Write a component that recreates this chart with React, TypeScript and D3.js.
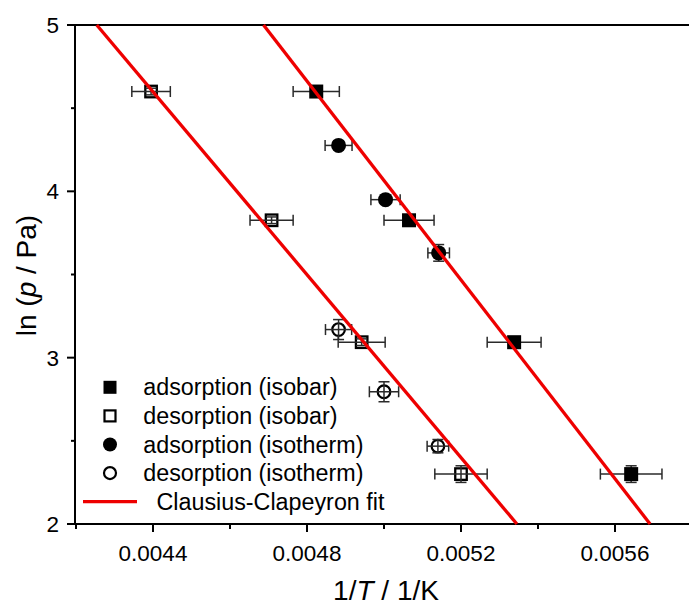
import React from "react";
import * as d3 from "d3";

const W = 689;
const H = 605;

// Data (1/T in 1/K, ln(p/Pa))
const adsIsobarX = [0.004824, 0.005065, 0.005338, 0.005642];
const adsIsobarY = [4.6, 3.826, 3.093, 2.3];
const adsIsobarXErr = [0.00006, 0.000065, 0.00007, 0.00008];
const adsIsobarYErr = [0.02, 0.02, 0.02, 0.05];

const desIsobarX = [0.004395, 0.004708, 0.004942, 0.0052];
const desIsobarY = [4.6, 3.826, 3.093, 2.3];
const desIsobarXErr = [0.00005, 0.000056, 0.000061, 0.000068];
const desIsobarYErr = [0.02, 0.02, 0.02, 0.05];

const adsIsothermX = [0.004882, 0.005004, 0.005142];
const adsIsothermY = [4.276, 3.95, 3.63];
const adsIsothermXErr = [0.000035, 0.000038, 0.000028];
const adsIsothermYErr = [0.02, 0.02, 0.05];

const desIsothermX = [0.004882, 0.005, 0.00514];
const desIsothermY = [3.169, 2.795, 2.468];
const desIsothermXErr = [0.000034, 0.000038, 0.000028];
const desIsothermYErr = [0.06, 0.06, 0.04];

// Clausius-Clapeyron fits: y = a + b*x
const fitIntercepts = [16.694, 19.005];
const fitSlopes = [-2749, -2988];

const xMajorTicks = [0.0044, 0.0048, 0.0052, 0.0056];
const xMinorTicks = [0.0042, 0.0046, 0.005, 0.0054, 0.0058];
const yMajorTicks = [2, 3, 4, 5];
const yMinorTicks = [2.5, 3.5, 4.5];

const legendLabels = [
  "adsorption (isobar)",
  "desorption (isobar)",
  "adsorption (isotherm)",
  "desorption (isotherm)",
  "Clausius-Clapeyron fit",
];

const FONT = "Liberation Sans, Arial, Helvetica, sans-serif";
const RED = "#ee0000";

export default function App() {
  const x = d3.scaleLinear().domain([0.0042, 0.0058]).range([76, 692]);
  const y = d3.scaleLinear().domain([2, 5]).range([524, 25]);

  const errBars = (xs: number[], ys: number[], xe: number[], ye: number[], key: string) =>
    xs.map((xv, i) => {
      const cx = x(xv);
      const cy = y(ys[i]);
      const x0 = x(xv - xe[i]);
      const x1 = x(xv + xe[i]);
      const y0 = y(ys[i] - ye[i]);
      const y1 = y(ys[i] + ye[i]);
      const c = 5.5;
      return (
        <g key={key + i} stroke="#2a2a2a" strokeWidth={1.5} fill="none">
          <line x1={x0} x2={x1} y1={cy} y2={cy} />
          <line x1={x0} x2={x0} y1={cy - c} y2={cy + c} />
          <line x1={x1} x2={x1} y1={cy - c} y2={cy + c} />
          <line x1={cx} x2={cx} y1={y0} y2={y1} />
          <line x1={cx - c} x2={cx + c} y1={y0} y2={y0} />
          <line x1={cx - c} x2={cx + c} y1={y1} y2={y1} />
        </g>
      );
    });

  const sq = 14;
  const r = 7.5;

  const fitLine = (k: number) => {
    const a = fitIntercepts[k];
    const b = fitSlopes[k];
    const xs5 = (5 - a) / b;
    const xs2 = (2 - a) / b;
    const gen = d3
      .line<[number, number]>()
      .x((d) => x(d[0]))
      .y((d) => y(d[1]));
    return (
      <path
        key={"fit" + k}
        d={gen([
          [xs5, 5],
          [xs2, 2],
        ]) as string}
        stroke={RED}
        strokeWidth={3.3}
        fill="none"
      />
    );
  };

  const legendY = (i: number) => 387.3 + i * 28.6;

  return (
    <svg
      width={W}
      height={H}
      style={{ position: "absolute", left: 0, top: 0, background: "#fff" }}
      fontFamily={FONT}
    >
      <rect x={0} y={0} width={W} height={H} fill="#fff" />

      {/* frame top */}
      <line x1={75} x2={692} y1={25} y2={25} stroke="#000" strokeWidth={2} />
      {/* axes */}
      <line x1={75} x2={75} y1={24} y2={525} stroke="#000" strokeWidth={2} />
      <line x1={74} x2={692} y1={524} y2={524} stroke="#000" strokeWidth={2} />

      {/* x ticks */}
      {xMajorTicks.map((t) => (
        <g key={"xt" + t}>
          <line x1={x(t)} x2={x(t)} y1={524} y2={532} stroke="#000" strokeWidth={2} />
          <text x={x(t)} y={561} textAnchor="middle" fontSize={22.5} fill="#000">
            {t.toFixed(4)}
          </text>
        </g>
      ))}
      {xMinorTicks.map((t) => (
        <line key={"xm" + t} x1={x(t)} x2={x(t)} y1={524} y2={529} stroke="#000" strokeWidth={2} />
      ))}

      {/* y ticks */}
      {yMajorTicks.map((t) => (
        <g key={"yt" + t}>
          <line x1={67} x2={75} y1={y(t)} y2={y(t)} stroke="#000" strokeWidth={2} />
          <text x={59} y={y(t) + 8} textAnchor="end" fontSize={22.5} fill="#000">
            {t}
          </text>
        </g>
      ))}
      {yMinorTicks.map((t) => (
        <line key={"ym" + t} x1={71} x2={75} y1={y(t)} y2={y(t)} stroke="#000" strokeWidth={2} />
      ))}

      {/* axis titles */}
      <text x={386} y={600} textAnchor="middle" fontSize={28} fill="#000">
        1/<tspan fontStyle="italic">T</tspan> / 1/K
      </text>
      <text
        transform={`translate(36, ${y(3.5) + 1}) rotate(-90)`}
        textAnchor="middle"
        fontSize={28}
        fill="#000"
      >
        ln (<tspan fontStyle="italic">p</tspan> / Pa)
      </text>

      {/* error bars under filled markers */}
      {errBars(adsIsobarX, adsIsobarY, adsIsobarXErr, adsIsobarYErr, "eai")}
      {errBars(adsIsothermX, adsIsothermY, adsIsothermXErr, adsIsothermYErr, "eat")}

      {/* markers: filled */}
      {adsIsobarX.map((xv, i) => (
        <rect key={"ai" + i} x={x(xv) - sq / 2} y={y(adsIsobarY[i]) - sq / 2} width={sq} height={sq} fill="#000" />
      ))}
      {adsIsothermX.map((xv, i) => (
        <circle key={"at" + i} cx={x(xv)} cy={y(adsIsothermY[i])} r={r} fill="#000" />
      ))}
      {/* markers: open */}
      {desIsobarX.map((xv, i) => (
        <rect
          key={"di" + i}
          x={x(xv) - (sq - 2.5) / 2}
          y={y(desIsobarY[i]) - (sq - 2.5) / 2}
          width={sq - 2.5}
          height={sq - 2.5}
          fill="#fff"
          stroke="#000"
          strokeWidth={2.3}
        />
      ))}
      {desIsothermX.map((xv, i) => (
        <circle key={"dt" + i} cx={x(xv)} cy={y(desIsothermY[i])} r={r - 1.2} fill="#fff" stroke="#000" strokeWidth={2.2} />
      ))}

      {/* error bars over open markers */}
      {errBars(desIsobarX, desIsobarY, desIsobarXErr, desIsobarYErr, "edi")}
      {errBars(desIsothermX, desIsothermY, desIsothermXErr, desIsothermYErr, "edt")}

      {/* fits on top */}
      {fitLine(0)}
      {fitLine(1)}

      {/* legend */}
      <rect x={110 - 6.5} y={legendY(0) - 6.5} width={13} height={13} fill="#000" />
      <rect x={110 - 5.5} y={legendY(1) - 5.5} width={11} height={11} fill="#fff" stroke="#000" strokeWidth={2.2} />
      <circle cx={110} cy={legendY(2)} r={7} fill="#000" />
      <circle cx={110} cy={legendY(3)} r={6} fill="#fff" stroke="#000" strokeWidth={2.2} />
      <line x1={83} x2={137} y1={legendY(4)} y2={legendY(4)} stroke={RED} strokeWidth={3.3} />
      {legendLabels.map((l, i) => (
        <text key={"lg" + i} x={i === 4 ? 156.5 : 143.3} y={legendY(i) + 8} fontSize={23.3} fill="#000">
          {l}
        </text>
      ))}
    </svg>
  );
}
